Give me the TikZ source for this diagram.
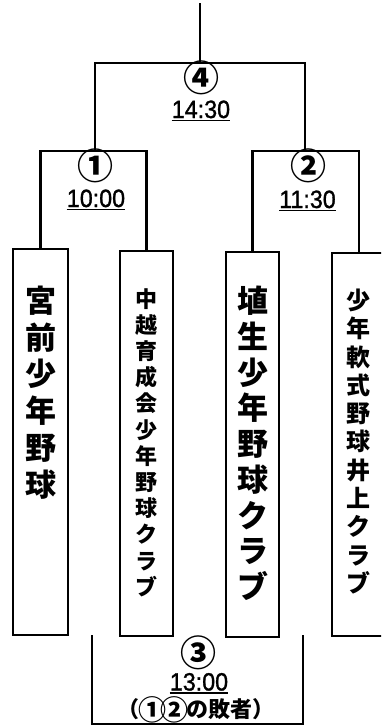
\documentclass[tikz,border=0pt]{standalone}
\usepackage{fontspec}
\newfontfamily\jp{Noto Sans CJK JP}
\newfontfamily\lat{Liberation Sans}[FakeBold=1.2, FakeStretch=0.93]
\newcommand{\incirc}[1]{\makebox[22pt]{\raisebox{-2.2pt}{\fontsize{28}{20}\selectfont #1}}}
\tikzset{
  box/.style={draw, line width=2.4pt, inner sep=0pt, outer sep=0pt},
  wire/.style={line width=2.4pt},
  uline/.style={line width=1.5pt},
  vt/.style={align=center, inner sep=0pt},
  circ/.style={font=\jp\bfseries\fontsize{36}{36}\selectfont, inner sep=0pt},
  timetxt/.style={font=\lat\fontsize{25}{25}\selectfont, inner sep=0pt, anchor=base},
}
\begin{document}
\begin{tikzpicture}[x=1pt,y=-1pt]
\useasboundingbox (0,0) rectangle (381,726);
\clip (0,0) rectangle (381,726);
% boxes
\node[box, minimum width=55pt, minimum height=386pt] (b1) at (40.5,442) {};
\node[box, minimum width=53pt, minimum height=385pt] (b2) at (146.5,443.5) {};
\node[box, minimum width=53pt, minimum height=385pt] (b3) at (252.5,444.5) {};
\node[box, minimum width=54pt, minimum height=383pt] (b4) at (359,444.5) {};
% box texts
\node[vt, font=\jp\bfseries\fontsize{31}{36.8}\selectfont] (l1) at (40.5,392.5) {宮\\前\\少\\年\\野\\球};
\node[vt, font=\jp\bfseries\fontsize{22}{26.2}\selectfont] (l2) at (146.5,442.5) {中\\越\\育\\成\\会\\少\\年\\野\\球\\ク\\ラ\\ブ};
\node[vt, font=\jp\bfseries\fontsize{31}{35.75}\selectfont] (l3) at (252.5,443.5) {埴\\生\\少\\年\\野\\球\\ク\\ラ\\ブ};
\node[vt, font=\jp\bfseries\fontsize{24}{28.3}\selectfont] (l4) at (358,441.5) {少\\年\\軟\\式\\野\\球\\井\\上\\ク\\ラ\\ブ};
% bracket coordinates
\coordinate (j1) at (95,151);
\coordinate (j2) at (305,151);
\coordinate (j4) at (200,63);
\coordinate (top) at (200,3);
\draw[wire] (b1.north) |- (j1) -| (b2.north);
\draw[wire] (b3.north) |- (j2) -| (b4.north);
\draw[wire] (j1) |- (j4) -| (j2);
\draw[wire] (j4) -- (top);
% third place bracket
\coordinate (c1) at (92,635);
\coordinate (c2) at (303,635);
\coordinate (c3) at (198,724);
\draw[wire] (c1) |- (c3) -| (c2);
% labels
\node[circ] (n4) at (201.5,78) {④};
\node[timetxt] (t4) at (201,118) {14:30};
\draw[uline] ([yshift=-2.5pt]t4.base west) -- ([yshift=-2.5pt]t4.base east);
\node[circ] (n1) at (95,166) {①};
\node[timetxt] (t1) at (96,207) {10:00};
\draw[uline] ([yshift=-2.5pt]t1.base west) -- ([yshift=-2.5pt]t1.base east);
\node[circ] (n2) at (308,166) {②};
\node[timetxt] (t2) at (307.5,208) {11:30};
\draw[uline] ([yshift=-2.5pt]t2.base west) -- ([yshift=-2.5pt]t2.base east);
\node[circ] (n3) at (198,653) {③};
\node[timetxt] (t3) at (199,690.5) {13:00};
\draw[uline] ([yshift=-2.5pt]t3.base west) -- ([yshift=-2.5pt]t3.base east);
\node[inner sep=0pt, font=\jp\bfseries\fontsize{22}{22}\selectfont] (loser) at (196,709.5) {（\kern1.5pt\incirc{①}\incirc{②}\kern1pt の敗者）};
\end{tikzpicture}
\end{document}
